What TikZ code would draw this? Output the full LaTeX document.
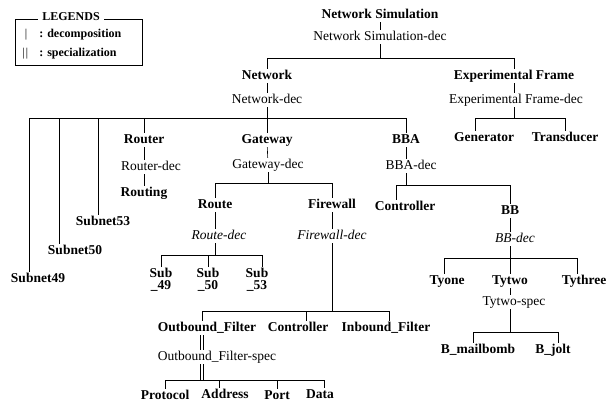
\documentclass[tikz,border=0pt]{standalone}
\usepackage{fontspec}
\setmainfont{Liberation Serif}
\usetikzlibrary{calc}
\tikzset{
  nm/.style={font=\fontsize{13.5}{13}\selectfont\bfseries, inner sep=1pt, text height=9pt, text depth=2.5pt},
  dc/.style={font=\fontsize{13.5}{13}\selectfont, inner sep=1pt, text height=9pt, text depth=2.5pt},
  dci/.style={font=\fontsize{13.5}{13}\selectfont\itshape, inner sep=1pt, text height=9pt, text depth=2.5pt},
  nm2/.style={font=\fontsize{13.5}{12}\selectfont\bfseries, inner sep=1pt, align=center},
  lgd/.style={font=\fontsize{12}{12}\selectfont\bfseries, inner sep=1pt},
  specline/.style={line width=0.6pt},
}
\begin{document}
\begin{tikzpicture}[x=1pt, y=-1pt, line width=0.6pt]
\fill[white] (0,0) rectangle (612,404);
\useasboundingbox (0,0) rectangle (612,404);

% ---------- legend ----------
\draw (15,19) rectangle (142,65);
\node[lgd, fill=white, inner xsep=4pt] (LG) at (71,17) {LEGENDS};
\node[lgd, font=\fontsize{12}{12}\selectfont] (L1s) at (26,35) {|};
\node[lgd, anchor=west] (L1) at (38,35) {: decomposition};
\node[lgd, font=\fontsize{12}{12}\selectfont\itshape] (L2s) at (25,54) {||};
\node[lgd, anchor=west] (L2) at (38,54) {: specialization};

% ---------- level 0 ----------
\node[nm] (NS) at (380,15) {Network Simulation};
\node[dc] (NSd) at (380,37) {Network Simulation-dec};
\draw (NS) -- (NSd);
\coordinate (bNS) at (0,58);
\node[nm] (NW) at (267,76) {Network};
\node[nm] (EF) at (514,76) {Experimental Frame};
\draw (NSd.south) -- (NSd.south |- bNS);
\draw (NW.north) -- (NW.north |- bNS) -- (EF.north |- bNS) -- (EF.north);

% ---------- experimental frame ----------
\node[dc] (EFd) at (516,100) {Experimental Frame-dec};
\draw (EF.south) -- (EF.south |- EFd.north);
\coordinate (bEF) at (0,118);
\draw (EFd.south -| EF) -- (bEF -| EF);
\node[nm] (GEN) at (484,138) {Generator};
\node[nm] (TRA) at (565,138) {Transducer};
\draw ($(GEN.north)+(-9,0)$) |- (bEF -| TRA) -- (TRA.north);

% ---------- network ----------
\node[dc] (NWd) at (267,100) {Network-dec};
\draw (NW) -- (NWd);
\coordinate (bNW) at (0,118);
\node[nm] (S49) at (38,279) {Subnet49};
\node[nm] (S50) at (75,251) {Subnet50};
\node[nm] (S53) at (103,222) {Subnet53};
\node[nm] (RT) at (144,140) {Router};
\node[nm] (GW) at (267,140) {Gateway};
\node[nm] (BBA) at (406,140) {BBA};
\draw ($(S49.north)+(-9,0)$) |- (bNW -| BBA) -- (BBA.north);
\coordinate (s50x) at ($(S50.north)+(-16,0)$);
\draw (s50x) -- (s50x |- bNW);
\coordinate (s53x) at ($(S53.north)+(-5,0)$);
\draw (s53x) -- (s53x |- bNW);
\draw (RT.north) -- (RT.north |- bNW);
\draw (NWd) -- (GW);

% ---------- router ----------
\node[dc] (RTd) at (151,167) {Router-dec};
\node[nm] (RTG) at (144,193) {Routing};
\draw (RT.south) -- (RT.south |- RTd.north);
\draw (RTd.south -| RT) -- (RTG.north);

% ---------- gateway ----------
\node[dc] (GWd) at (268,165) {Gateway-dec};
\draw (GW) -- (GWd);
\coordinate (bGW) at (0,183);
\node[nm] (RO) at (215,205) {Route};
\node[nm] (FW) at (332,205) {Firewall};
\draw (GWd.south) -- (GWd.south |- bGW);
\draw (RO.north) |- (bGW -| FW) -- (FW.north);

% ---------- route ----------
\node[dci] (ROd) at (219,236) {Route-dec};
\draw (RO.south) -- (RO.south |- ROd.north);
\coordinate (bRO) at (0,255);
\draw (ROd.south -| RO) -- (bRO -| RO);
\node[nm2] (SB49) at (161,280) {Sub\\\_49};
\node[nm2] (SB50) at (208,280) {Sub\\\_50};
\node[nm2] (SB53) at (257,280) {Sub\\\_53};
\draw (SB49.north) |- ($(bRO -| SB53)+(5,0)$) -- ($(SB53.north)+(5,0)$);
\draw (SB50.north) -- (SB50.north |- bRO);

% ---------- firewall ----------
\node[dci] (FWd) at (332,236) {Firewall-dec};
\draw (FW) -- (FWd);
\coordinate (bFW) at (0,311);
\draw (FWd.south) -- (FWd.south |- bFW);
\node[nm] (OF) at (207,328) {Outbound\_Filter};
\node[nm] (CT2) at (298,328) {Controller};
\node[nm] (IF) at (386,328) {Inbound\_Filter};
\draw ($(OF.north)+(-5,0)$) |- ($(bFW -| IF)+(3,0)$) -- ($(IF.north)+(3,0)$);
\coordinate (c2x) at ($(CT2.north)+(8,0)$);
\draw (c2x) -- (c2x |- bFW);

% ---------- outbound filter ----------
\node[dc] (OFs) at (217,357) {Outbound\_Filter-spec};
\coordinate (ofx) at ($(OF.south)+(-5,0)$);
\coordinate (ofy) at (ofx |- OFs.north);
\draw[specline] ($(ofx)+(-1.5,0)$) -- ($(ofy)+(-1.5,0)$);
\draw[specline] ($(ofx)+(1.5,0)$) -- ($(ofy)+(1.5,0)$);
\coordinate (bOF) at (0,380);
\coordinate (ofz) at (OFs.south -| ofx);
\coordinate (ofw) at (ofx |- bOF);
\draw[specline] ($(ofz)+(-1.5,0)$) -- ($(ofw)+(-1.5,0)$);
\draw[specline] ($(ofz)+(1.5,0)$) -- ($(ofw)+(1.5,0)$);
\node[nm] (PR) at (165,396) {Protocol};
\node[nm] (AD) at (225,395) {Address};
\node[nm] (PO) at (277,396) {Port};
\node[nm] (DA) at (320,395) {Data};
\draw (PR.north) |- ($(bOF -| DA)+(4,0)$) -- ($(DA.north)+(4,0)$);
\coordinate (adx) at ($(AD.north)+(-6,0)$);
\draw (adx) -- (adx |- bOF);
\draw (PO.north) -- (PO.north |- bOF);

% ---------- BBA ----------
\node[dc] (BBAd) at (411,166) {BBA-dec};
\draw (BBA.south) -- (BBA.south |- BBAd.north);
\coordinate (bBBA) at (0,185);
\draw (BBAd.south -| BBA) -- (bBBA -| BBA);
\node[nm] (CT1) at (405,207) {Controller};
\node[nm] (BB) at (510,211) {BB};
\draw ($(CT1.north)+(-9,0)$) |- (bBBA -| BB) -- (BB.north);

% ---------- BB ----------
\node[dci] (BBd) at (515,239) {BB-dec};
\draw (BB.south) -- (BB.south |- BBd.north);
\coordinate (bBB) at (0,258);
\draw (BBd.south -| BB) -- (bBB -| BB);
\node[nm] (TY1) at (447,281) {Tyone};
\node[nm] (TY2) at (510,281) {Tytwo};
\node[nm] (TY3) at (584,281) {Tythree};
\draw ($(TY1.north)+(-3,0)$) |- ($(bBB -| TY3)+(-7,0)$) -- ($(TY3.north)+(-7,0)$);
\draw (TY2.north) -- (TY2.north |- bBB);

% ---------- Tytwo ----------
\node[dc] (TY2s) at (514,302) {Tytwo-spec};
\draw (TY2.south) -- (TY2.south |- TY2s.north);
\coordinate (bTY) at (0,332);
\draw (TY2s.south -| TY2) -- (bTY -| TY2);
\node[nm] (BM) at (478,350) {B\_mailbomb};
\node[nm] (BJ) at (553,350) {B\_jolt};
\draw ($(BM.north)+(-5,0)$) |- ($(bTY -| BJ)+(5,0)$) -- ($(BJ.north)+(5,0)$);
\end{tikzpicture}
\end{document}
